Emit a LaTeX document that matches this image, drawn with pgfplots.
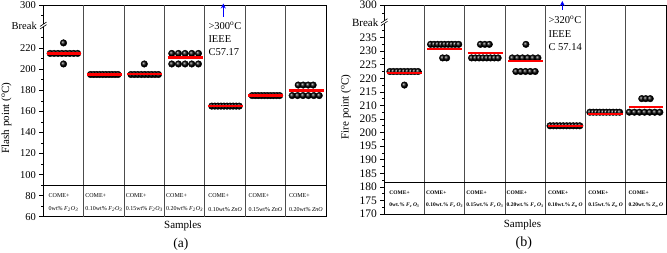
\documentclass[border=0pt]{standalone}
\usepackage{fontspec}
\setmainfont{Liberation Serif}
\usepackage{pgfplots}
\pgfplotsset{compat=1.18}
\usetikzlibrary{arrows.meta}
\newcommand{\FO}{\textit{F}\textsubscript{\textit{2}}\textit{O}\textsubscript{\textit{3}}}
\newcommand{\FeO}{\textit{F}\textsubscript{\textit{e}}\,\textit{O}\textsubscript{\textit{3}}}
\newcommand{\ZnOb}{\textit{Z}\textsubscript{\textit{n}}\,\textit{O}}
\pgfplotsset{
  panel/.style={
    scale only axis, xmin=0, xmax=7, xtick=\empty,
    ytick pos=left, tick align=outside,
    major tick length=4pt, minor tick length=2.2pt,
    axis line style={line width=0.8pt},
    every tick/.style={black, line width=0.6pt},
    clip=false,
  },
  geomA/.style={scale only axis, at={(43.3pt,36.3pt)}, anchor=south west,
    width=282.8pt, height=211.7pt, xmin=0, xmax=7, ymin=60, ymax=261},
  geomB/.style={scale only axis, at={(384.3pt,39pt)}, anchor=south west,
    width=281.6pt, height=209pt, xmin=0, xmax=7, ymin=170, ymax=247},
  balls/.style={only marks, mark=ball, mark size=3.3pt, mark options={ball color=black}},
  meanA/.style={red, line width=2.5pt, mark=none},
  meanB/.style={red, line width=2pt, mark=none},
}
\begin{document}
\begin{tikzpicture}
\useasboundingbox (0,0) rectangle (667pt,253pt);
% ---------------- panel (a)
\begin{axis}[panel, geomA,
  ytick={60,80,100,120,140,160,180,200,220,261},
  yticklabels={60,80,100,120,140,160,180,200,220,300},
  minor ytick={70,90,110,130,150,170,190,210,230,251},
  yticklabel style={font=\fontsize{10.5}{12}\selectfont}]
\pgfplotsinvokeforeach{1,...,6}{\draw[black!70, line width=0.8pt] (#1,60) -- (#1,261);}
\draw[line width=0.8pt] (0,89.4) -- (7,89.4);
\addplot[balls] coordinates {(0.17,215)(0.267,215)(0.364,215)(0.461,215)(0.559,215)(0.656,215)(0.753,215)(0.85,215)(0.5,225)(0.5,205)};
\addplot[balls] coordinates {(1.17,195)(1.246,195)(1.321,195)(1.397,195)(1.472,195)(1.548,195)(1.624,195)(1.699,195)(1.775,195)(1.85,195)};
\addplot[balls] coordinates {(2.17,195)(2.255,195)(2.34,195)(2.425,195)(2.51,195)(2.595,195)(2.68,195)(2.765,195)(2.85,195)(2.5,205)};
\addplot[balls] coordinates {(3.18,215)(3.345,215)(3.51,215)(3.675,215)(3.84,215)(3.18,205)(3.345,205)(3.51,205)(3.675,205)(3.84,205)};
\addplot[balls] coordinates {(4.17,165)(4.246,165)(4.321,165)(4.397,165)(4.472,165)(4.548,165)(4.624,165)(4.699,165)(4.775,165)(4.85,165)};
\addplot[balls] coordinates {(5.17,175)(5.246,175)(5.321,175)(5.397,175)(5.472,175)(5.548,175)(5.624,175)(5.699,175)(5.775,175)(5.85,175)};
\addplot[balls] coordinates {(6.16,175)(6.294,175)(6.428,175)(6.562,175)(6.696,175)(6.83,175)(6.31,185)(6.433,185)(6.557,185)(6.68,185)};
\begin{scope}[every node/.style={align=left, inner sep=0, font=\fontsize{6}{13.6}\selectfont}]
\node at (0.5,73.5) {COME+\\0wt\% \FO};
\node at (1.5,73.5) {COME+\\0.10wt\% \FO};
\node at (2.5,73.5) {COME+\\0.15wt\% \FO};
\node at (3.5,73.5) {COME+\\0.20wt\% \FO};
\node at (4.5,73.5) {COME+\\0.10wt\% \textit{ZnO}};
\node at (5.5,73.5) {COME+\\0.15wt\% \textit{ZnO}};
\node at (6.5,73.5) {COME+\\0.20wt\% \textit{ZnO}};
\end{scope}
\end{axis}
% mean lines (a), drawn over the spheres
\begin{axis}[geomA, hide axis, clip=false]
\addplot[meanA] coordinates {(0.08,215)(0.94,215)};
\addplot[meanA] coordinates {(1.07,195)(1.94,195)};
\addplot[meanA] coordinates {(2.08,195.5)(2.94,195.5)};
\addplot[meanA] coordinates {(3.08,211)(3.95,211)};
\addplot[meanA] coordinates {(4.07,165)(4.95,165)};
\addplot[meanA] coordinates {(5.07,175)(5.94,175)};
\addplot[meanA] coordinates {(6.08,180)(6.94,180)};
\end{axis}
% break (a)
\fill[white] (41.8pt,225.6pt) rectangle (44.8pt,229pt);
\draw[line width=0.6pt] (40pt,224pt) -- (46.5pt,228.3pt);
\draw[line width=0.6pt] (40pt,226.6pt) -- (46.5pt,230.9pt);
\node[anchor=east, inner sep=0, font=\fontsize{10.5}{12}\selectfont] at (37pt,227.3pt) {Break};
\node[rotate=90, font=\fontsize{11}{13}\selectfont] at (6.5pt,135pt) {Flash point (\textsuperscript{o}C)};
\node[font=\fontsize{11}{13}\selectfont] at (182.8pt,27pt) {Samples};
\node[font=\fontsize{13.5}{15}\selectfont] at (180.8pt,9pt) {(a)};
\draw[blue, line width=1pt, -{Stealth[length=5pt,width=5pt]}] (223.3pt,236pt) -- (223.3pt,249.5pt);
\begin{scope}[every node/.style={anchor=base west, inner sep=0, font=\fontsize{10.5}{13}\selectfont}]
\node at (208.3pt,223.6pt) {>300\textsuperscript{o}C};
\node at (208.3pt,210.3pt) {IEEE};
\node at (208.3pt,197pt) {C57.17};
\end{scope}
% ---------------- panel (b)
\begin{axis}[panel, geomB,
  ytick={170,175,180,185,190,195,200,205,210,215,220,225,230,235,247},
  yticklabels={170,175,180,185,190,195,200,205,210,215,220,225,230,235,300},
  minor ytick={172.5,177.5,182.5,187.5,192.5,197.5,202.5,207.5,212.5,217.5,222.5,227.5,232.5,237.5,244},
  yticklabel style={font=\fontsize{11.5}{12}\selectfont}]
\pgfplotsinvokeforeach{1,...,6}{\draw[black!70, line width=0.8pt] (#1,170) -- (#1,247);}
\draw[line width=0.8pt] (0,181.7) -- (7,181.7);
\addplot[balls] coordinates {(0.14,222.5)(0.2275,222.5)(0.315,222.5)(0.4025,222.5)(0.49,222.5)(0.5775,222.5)(0.665,222.5)(0.7525,222.5)(0.84,222.5)(0.5,217.5)};
\addplot[balls] coordinates {(1.15,232.5)(1.2375,232.5)(1.325,232.5)(1.4125,232.5)(1.5,232.5)(1.5875,232.5)(1.675,232.5)(1.7625,232.5)(1.85,232.5)(1.45,227.5)(1.55,227.5)};
\addplot[balls] coordinates {(2.39,232.5)(2.5,232.5)(2.61,232.5)(2.17,227.5)(2.264,227.5)(2.359,227.5)(2.453,227.5)(2.547,227.5)(2.641,227.5)(2.736,227.5)(2.83,227.5)};
\addplot[balls] coordinates {(3.52,232.5)(3.18,227.5)(3.308,227.5)(3.436,227.5)(3.564,227.5)(3.692,227.5)(3.82,227.5)(3.27,222.5)(3.39,222.5)(3.51,222.5)(3.63,222.5)(3.75,222.5)};
\addplot[balls] coordinates {(4.12,202.5)(4.202,202.5)(4.284,202.5)(4.367,202.5)(4.449,202.5)(4.531,202.5)(4.613,202.5)(4.696,202.5)(4.778,202.5)(4.86,202.5)};
\addplot[balls] coordinates {(5.11,207.5)(5.192,207.5)(5.274,207.5)(5.357,207.5)(5.439,207.5)(5.521,207.5)(5.603,207.5)(5.686,207.5)(5.768,207.5)(5.85,207.5)};
\addplot[balls] coordinates {(6.4,212.5)(6.5,212.5)(6.61,212.5)(6.09,207.5)(6.217,207.5)(6.343,207.5)(6.47,207.5)(6.597,207.5)(6.723,207.5)(6.85,207.5)};
\begin{scope}[every node/.style={align=left, inner sep=0, font=\bfseries\fontsize{5.5}{11.5}\selectfont}]
\node at (0.5,175.5) {COME+\\0wt.\% \FeO};
\node at (1.5,175.5) {COME+\\0.10wt.\% \FeO};
\node at (2.5,175.5) {COME+\\0.15wt.\% \FeO};
\node at (3.5,175.5) {COME+\\0.20wt.\% \FeO};
\node at (4.5,175.5) {COME+\\0.10wt.\% \ZnOb};
\node at (5.5,175.5) {COME+\\0.15wt.\% \ZnOb};
\node at (6.5,175.5) {COME+\\0.20wt.\% \ZnOb};
\end{scope}
\end{axis}
% mean lines (b)
\begin{axis}[geomB, hide axis, clip=false]
\addplot[meanB] coordinates {(0.06,222)(0.93,222)};
\addplot[meanB] coordinates {(1.07,230.7)(1.93,230.7)};
\addplot[meanB] coordinates {(2.08,229.3)(2.94,229.3)};
\addplot[meanB] coordinates {(3.08,226.2)(3.94,226.2)};
\addplot[meanB] coordinates {(4.08,202.5)(4.94,202.5)};
\addplot[meanB] coordinates {(5.07,207)(5.93,207)};
\addplot[meanB] coordinates {(6.08,209.3)(6.94,209.3)};
\end{axis}
% break (b)
\fill[white] (382.8pt,229pt) rectangle (385.8pt,232.4pt);
\draw[line width=0.6pt] (381pt,227.4pt) -- (387.5pt,231.7pt);
\draw[line width=0.6pt] (381pt,230pt) -- (387.5pt,234.3pt);
\node[anchor=east, inner sep=0, font=\fontsize{11}{12}\selectfont] at (378.5pt,230.7pt) {Break};
\node[rotate=90, font=\fontsize{11}{13}\selectfont] at (346pt,146pt) {Fire point (\textsuperscript{o}C)};
\node[font=\fontsize{11}{13}\selectfont] at (522.5pt,27.7pt) {Samples};
\node[font=\fontsize{14}{16}\selectfont] at (523.8pt,9.7pt) {(b)};
\draw[blue, line width=1pt, -{Stealth[length=5pt,width=5pt]}] (562.3pt,243pt) -- (562.3pt,252pt);
\begin{scope}[every node/.style={anchor=base west, inner sep=0, font=\fontsize{10.5}{13}\selectfont}]
\node at (548.3pt,229.3pt) {>320\textsuperscript{o}C};
\node at (548.3pt,215.3pt) {IEEE};
\node at (548.3pt,202pt) {C 57.14};
\end{scope}
\end{tikzpicture}
\end{document}
